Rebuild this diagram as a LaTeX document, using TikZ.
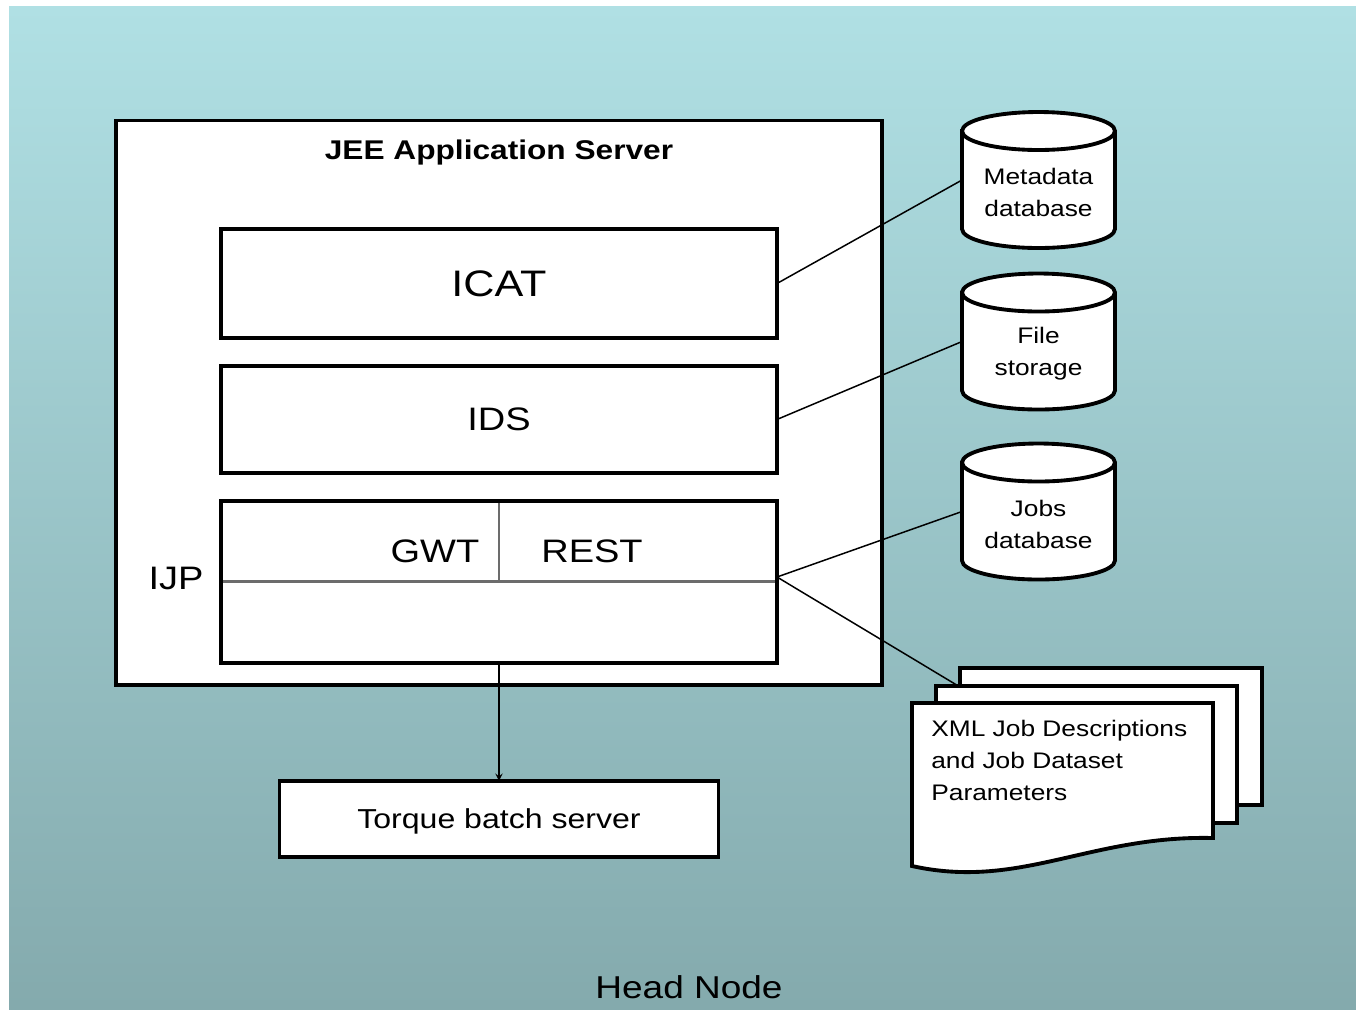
\documentclass[tikz,border=0pt]{standalone}
\usepackage{fontspec}
\setmainfont{Liberation Sans}[FakeStretch=1.17]
\usetikzlibrary{positioning}

\definecolor{bgtop}{RGB}{176,224,228}
\definecolor{bgbottom}{RGB}{132,170,173}
\definecolor{splitgray}{RGB}{108,108,108}

\begin{document}
\begin{tikzpicture}[x=0.02cm,y=-0.02cm,>=stealth,
	big text/.style={font=\fontsize{18.5}{22}\selectfont},
	mid text/.style={font=\fontsize{15.6}{18}\selectfont},
	small text/.style={font=\fontsize{12.8}{18.2}\selectfont,inner sep=0pt},
	box/.style={draw,line width=2.2pt,fill=white,inner sep=0pt,outer sep=0pt},
	layer/.style={box,big text,minimum width=11.12cm},
	store/.style={draw,line width=2.2pt,fill=white},
	page/.style={draw,line width=2.2pt,fill=white},
	split/.style={draw=splitgray,line width=1.7pt,shorten <=1.1pt,shorten >=1.1pt},
	conn/.style={line width=0.85pt}]

	\useasboundingbox (0,0) rectangle (1356,1009);
	\fill[white] (0,0) rectangle (1356,1009);
	\shade[top color=bgtop,bottom color=bgbottom] (9,6) rectangle (1356,1009);

	\node[box,minimum width=15.32cm,minimum height=11.29cm] at (499,402.75) (jee) {};
	\node[font=\fontsize{15.4}{18}\selectfont\bfseries] at (499,152) (jeetitle) {JEE Application Server};
	\node[layer,font=\fontsize{21}{25}\selectfont,minimum height=2.18cm] at (499,283.5) (icat) {ICAT};
	\node[layer,minimum height=2.14cm,below=0.56cm of icat] (ids) {IDS};
	\node[layer,minimum height=3.24cm,below=0.56cm of ids] (ijp) {};
	\draw[split] (ijp.west) -- (ijp.east);
	\draw[split,shorten >=0pt] (ijp.north) -- (ijp.center);
	\node[big text] at (435,551) (gwt) {GWT};
	\node[big text] at (592,551) (rest) {REST};
	\node[big text] at (176,578) (ijplabel) {IJP};
	\node[box,mid text,text depth=0pt,minimum width=8.78cm,minimum height=1.52cm,below=2.36cm of ijp] (torque) {Torque batch server};

	\foreach \name/\y/\txt in {meta/180/{Metadata\\database},files/341.5/{File\\storage},jobs/511.5/{Jobs\\database}}{
		\draw[store] (962,\y-49) -- (962,\y+49) arc (180:360:1.53cm and 0.38cm) -- (1115,\y-49) arc (0:180:1.53cm and 0.38cm) -- cycle;
		\draw[line width=2.2pt] (962,\y-49) arc (180:360:1.53cm and 0.38cm);
		\node[minimum width=3.06cm,minimum height=2.72cm,inner sep=0pt,outer sep=0pt] at (1038.5,\y) (\name) {};
		\node[small text,align=center] at (1038.5,\y+12.5) (\name text) {\txt};
	}

	\draw[page] (960,668) rectangle (1262,805);
	\draw[page] (936,686) rectangle (1237,823);
	\draw[page] (912,703) -- (1213,703) -- (1213,838) .. controls (1090,835) and (1020,890) .. (912,866) -- cycle;
	\node[small text,align=left,anchor=north west] at (931,720) (xml) {XML Job Descriptions\\and Job Dataset\\Parameters};

	\node[font=\fontsize{18}{22}\selectfont] at (689,987) (headnode) {Head Node};

	\coordinate (ijpport) at (777,577);
	\coordinate (pagesin) at (960,687);
	\path[conn]
	(icat.east) edge (meta.west)
	(ids.east) edge (files.west)
	(ijpport) edge (jobs.west)
	(ijpport) edge (pagesin)
	(ijp.south) edge[->] (torque.north);

\end{tikzpicture}
\end{document}
